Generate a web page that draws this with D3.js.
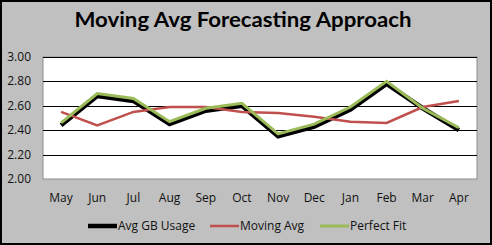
<!DOCTYPE html>
<html>
<head>
<meta charset="utf-8">
<script src="https://cdn.jsdelivr.net/npm/d3@7"></script>
<style>
  body { margin: 0; background: #fff; }
  svg { display: block; font-family: "Open Sans", "DejaVu Sans", sans-serif; }
</style>
</head>
<body>
<div id="chart"></div>
<script>
// chart values
var months = ["May", "Jun", "Jul", "Aug", "Sep", "Oct", "Nov", "Dec", "Jan", "Feb", "Mar", "Apr"]
var avgUsage = [2.44, 2.68, 2.64, 2.45, 2.56, 2.60, 2.35, 2.43, 2.57, 2.78, 2.58, 2.40]
var movingAvg = [2.55, 2.44, 2.55, 2.59, 2.59, 2.55, 2.54, 2.51, 2.47, 2.46, 2.59, 2.64]
var perfectFit = [2.46, 2.70, 2.66, 2.47, 2.58, 2.62, 2.37, 2.45, 2.59, 2.80, 2.58, 2.42]
var yTicks = [2.00, 2.20, 2.40, 2.60, 2.80, 3.00]

var w = 492, h = 245
var plot = {left: 43, right: 477, top: 57, bottom: 179}

var svg = d3.select("#chart").append("svg")
    .attr("width", w)
    .attr("height", h)

// background + frame
svg.append("rect")
    .attr("x", 1).attr("y", 1)
    .attr("width", w - 2).attr("height", h - 2)
    .attr("fill", "#c0c0c0")
    .attr("stroke", "#000")
    .attr("stroke-width", 2)

svg.append("text")
    .attr("x", 243)
    .attr("y", 27)
    .attr("text-anchor", "middle")
    .attr("font-family", "Lato, 'Open Sans', sans-serif")
    .attr("font-weight", "bold")
    .attr("font-size", 21)
    .attr("textLength", 337)
    .attr("lengthAdjust", "spacingAndGlyphs")
    .attr("fill", "#000")
    .text("Moving Avg Forecasting Approach")

var x = d3.scaleBand().domain(months).range([plot.left, plot.right])
var y = d3.scaleLinear().domain([2, 3]).range([plot.bottom, plot.top])

// plot area
svg.append("rect")
    .attr("x", plot.left).attr("y", plot.top)
    .attr("width", plot.right - plot.left)
    .attr("height", plot.bottom - plot.top)
    .attr("fill", "#fff")
    .attr("stroke", "#8c8c8c")
    .attr("stroke-width", 1)

// gridlines
svg.append("g").selectAll("line")
    .data(yTicks.slice(1))
    .enter()
    .append("line")
    .attr("x1", plot.left)
    .attr("x2", plot.right)
    .attr("y1", function (d) { return Math.round(y(d)) + 0.5 })
    .attr("y2", function (d) { return Math.round(y(d)) + 0.5 })
    .attr("stroke", "#000")
    .attr("stroke-width", 1)

// y labels
svg.append("g").selectAll("text")
    .data(yTicks)
    .enter()
    .append("text")
    .attr("x", 31)
    .attr("y", function (d) { return y(d) + 4 })
    .attr("text-anchor", "end")
    .attr("font-size", 12)
    .attr("fill", "#111")
    .text(function (d) { return d.toFixed(2) })

// x labels
svg.append("g").selectAll("text")
    .data(months)
    .enter()
    .append("text")
    .attr("x", function (d) { return x(d) + x.bandwidth() / 2 })
    .attr("y", 202)
    .attr("text-anchor", "middle")
    .attr("font-size", 12)
    .attr("fill", "#111")
    .text(function (d) { return d })

var line = d3.line()
    .x(function (d, i) { return x(months[i]) + x.bandwidth() / 2 })
    .y(function (d) { return y(d) })

var series = [
    {name: "Avg GB Usage", values: avgUsage, color: "#000000", width: 4.5, lx: 88},
    {name: "Moving Avg", values: movingAvg, color: "#c0504d", width: 2.5, lx: 210},
    {name: "Perfect Fit", values: perfectFit, color: "#9bbb59", width: 3, lx: 320}
]

svg.append("g").selectAll("path")
    .data(series)
    .enter()
    .append("path")
    .attr("d", function (d) { return line(d.values) })
    .attr("fill", "none")
    .attr("stroke", function (d) { return d.color })
    .attr("stroke-width", function (d) { return d.width })
    .attr("stroke-linejoin", "miter")

// legend
var leg = svg.append("g").selectAll("g")
    .data(series)
    .enter()
    .append("g")
    .attr("transform", function (d) { return "translate(" + d.lx + ",226)" })

leg.append("line")
    .attr("x1", 0).attr("x2", 29)
    .attr("y1", 0).attr("y2", 0)
    .attr("stroke", function (d) { return d.color })
    .attr("stroke-width", function (d) { return d.width })

leg.append("text")
    .attr("x", 30)
    .attr("y", 4)
    .attr("font-size", 12)
    .attr("fill", "#111")
    .text(function (d) { return d.name })
</script>
</body>
</html>
